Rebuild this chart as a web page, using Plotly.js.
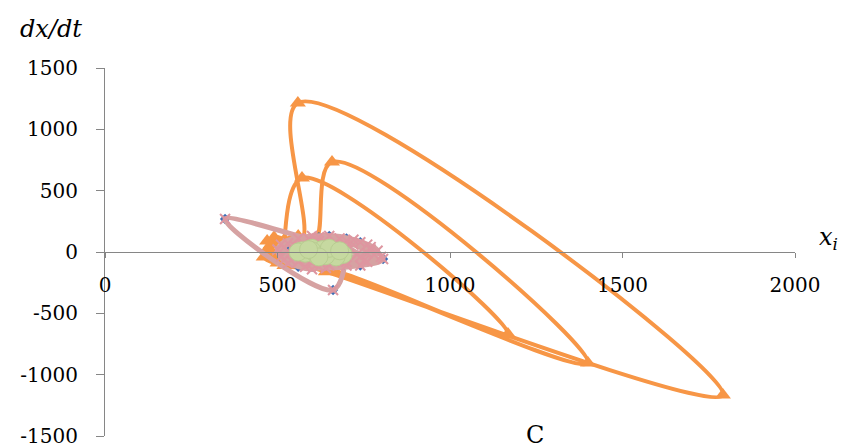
<!DOCTYPE html>
<html>
<head>
<meta charset="utf-8">
<script src="https://cdn.plot.ly/plotly-3.0.1.min.js"></script>
<style>html,body{margin:0;padding:0;background:#fff;}#chart{width:842px;height:448px;}</style>
</head>
<body>
<div id="chart"></div>
<script>
// Orange series (triangles): dx/dt vs x_i
const orangeX = [480, 500, 460, 520, 520, 571, 1168, 650, 520, 470, 560, 610, 658, 1400, 660, 530, 490, 570, 559, 1791, 640, 500, 470];
const orangeY = [60, -90, -40, 40, 100, 603, -668, -140, -110, 20, 130, 100, 734, -905, -150, -60, 120, 90, 1215, -1166, -160, -30, 90];

// Blue series (diamonds)
const blueX = [620, 740, 780, 348, 661, 690, 560, 520, 700, 806, 740, 600, 540, 650, 760];
const blueY = [120, 80, -20, 269, -310, -80, -120, 60, 110, -57, -110, -120, 30, 130, 40];

// Pink series (x markers)
const pinkX = [620, 740, 790, 760, 640, 530, 500, 560, 680, 770, 800, 700, 580, 510, 530, 650, 760, 780, 348, 661, 690, 600, 520, 510, 600, 720, 806, 740, 620, 540, 520, 590, 700, 770, 750, 650, 560, 540, 620, 720, 760, 700, 600, 560, 640, 700, 740, 680, 590, 550, 610, 690, 730, 660, 580];
const pinkY = [120, 80, 10, -80, -130, -90, 20, 110, 110, 40, -40, -110, -120, -40, 70, 130, 60, -20, 269, -310, -80, -140, -60, 60, 130, 100, -57, -110, -120, -70, 40, 110, 90, 20, -70, -110, -80, 30, 90, 60, -10, -80, -90, 0, 60, 40, -40, -60, -50, 50, 70, 50, -20, -60, -30];

// Green series (circles)
const greenX = [570, 600, 630, 660, 690, 670, 640, 610, 580, 560, 600, 650, 680, 620, 590];
const greenY = [10, 30, 20, 0, -20, -40, -30, -20, -10, 0, 10, 30, 10, -40, 20];

// Axis ticks
const xTicks = [0, 500, 1000, 1500, 2000];
const yTicks = [-1500, -1000, -500, 0, 500, 1000, 1500];

const tickFont = {family: 'DejaVu Serif', size: 20, color: '#000'};
const axisGray = '#868686';

const traces = [
  {x: orangeX, y: orangeY, type: 'scatter', mode: 'lines+markers',
   line: {color: '#F79646', width: 4, shape: 'spline', smoothing: 1},
   marker: {symbol: 'triangle-up', size: 14, color: '#F79646'}, hoverinfo: 'skip'},
  {x: blueX, y: blueY, type: 'scatter', mode: 'lines+markers',
   line: {color: '#4A7EBB', width: 3, shape: 'spline', smoothing: 1},
   marker: {symbol: 'diamond', size: 8, color: '#3E6DB5'}, hoverinfo: 'skip'},
  {x: pinkX, y: pinkY, type: 'scatter', mode: 'lines+markers',
   line: {color: 'rgb(214,162,162)', width: 5, shape: 'spline', smoothing: 1},
   marker: {symbol: 'x-thin', size: 10, line: {color: 'rgb(222,150,160)', width: 2}}, hoverinfo: 'skip'},
  {x: greenX, y: greenY, type: 'scatter', mode: 'lines+markers',
   line: {color: 'rgb(196,215,158)', width: 4, shape: 'spline', smoothing: 1},
   marker: {symbol: 'circle', size: 18, color: 'rgb(198,217,160)', line: {color: 'rgb(184,205,145)', width: 1}}, hoverinfo: 'skip'}
];

const layout = {
  width: 842, height: 448,
  margin: {l: 105, r: 47, t: 68, b: 12, pad: 0},
  paper_bgcolor: '#fff', plot_bgcolor: '#fff',
  showlegend: false,
  xaxis: {
    range: [0, 2000], tickvals: xTicks, ticktext: xTicks.map(String),
    anchor: 'free', position: 0.5, side: 'bottom',
    showline: true, linecolor: axisGray, linewidth: 1,
    ticks: 'outside', ticklen: 5, tickcolor: axisGray, tickwidth: 1,
    showgrid: false, zeroline: false, tickfont: tickFont, ticklabelstandoff: 10,
    automargin: false
  },
  yaxis: {
    range: [-1500, 1500], tickvals: yTicks, ticktext: yTicks.map(String),
    showline: true, linecolor: axisGray, linewidth: 1,
    ticks: 'outside', ticklen: 8, tickcolor: axisGray, tickwidth: 1,
    showgrid: false, zeroline: false, tickfont: tickFont, ticklabelstandoff: 14,
    automargin: false
  },
  annotations: [
    {text: '<i>dx/dt</i>', xref: 'paper', yref: 'paper', x: -0.078, y: 1.106,
     xanchor: 'center', yanchor: 'middle', showarrow: false,
     font: {family: 'DejaVu Serif', size: 24, color: '#000'}},
    {text: '<i>x</i><sub><i>i</i></sub>', xref: 'paper', yref: 'paper', x: 1.049, y: 0.538,
     xanchor: 'center', yanchor: 'middle', showarrow: false,
     font: {family: 'DejaVu Serif', size: 24, color: '#000'}},
    {text: 'C', xref: 'paper', yref: 'paper', x: 0.623, y: 0.002,
     xanchor: 'center', yanchor: 'middle', showarrow: false,
     font: {family: 'DejaVu Serif', size: 24, color: '#000'}}
  ]
};

Plotly.newPlot('chart', traces, layout, {staticPlot: true, displayModeBar: false});
</script>
</body>
</html>
